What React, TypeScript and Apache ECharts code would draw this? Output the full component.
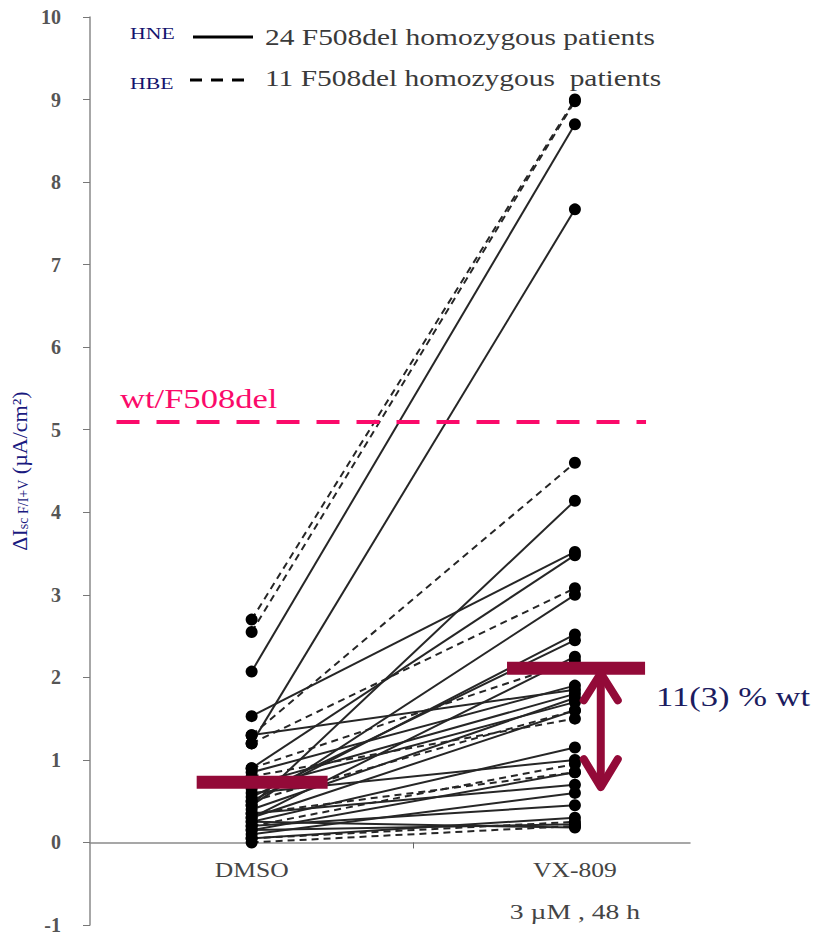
import React, { useEffect, useRef } from 'react';
import * as echarts from 'echarts';

// ---- data ----
const categories = ['DMSO', 'VX-809'];
const treatmentNote = '3 µM , 48 h';
// HNE: 24 F508del homozygous patients (solid lines)
const hneDmso = [2.07, 1.2, 0.45, 1.53, 1.3, 0.9, 0.45, 0.5, 0.55, 0.3, 0.85, 0.7, 0.4, 0.65, 0.3, 0.25, 0.6, 0.15, 0.35, 0.1, 0.2, 0.05, 0.15, 0.25];
const hneVx = [8.7, 7.67, 4.14, 3.52, 1.85, 3.48, 3.0, 2.52, 2.45, 2.25, 1.9, 1.8, 1.75, 1.7, 1.6, 1.15, 1.0, 0.85, 0.7, 0.6, 0.45, 0.3, 0.22, 0.18];
// HBE: 11 F508del homozygous patients (dashed lines)
const hbeDmso = [2.7, 2.55, 1.3, 1.2, 0.8, 0.2, 0.0, 0.9, 0.5, 0.35, 0.05];
const hbeVx = [9.0, 8.98, 4.6, 3.08, 1.5, 0.95, 0.2, 2.2, 1.6, 0.85, 0.25];
const means = [0.73, 2.11];
const wtLevel = 5.1;
const arrowRange = [2.11, 0.67];
const yTicks = { min: -1, max: 10, interval: 1 };
const legendRows = [
  { group: 'HNE', text: '24 F508del homozygous patients' },
  { group: 'HBE', text: '11 F508del homozygous  patients' },
];
const wtLabel = 'wt/F508del';
const pctLabel = '11(3) % wt';

const SERIF = 'Liberation Serif';
const CRIMSON = '#930a38';
const SX = 1.28; // horizontal stretch of the reference's texts

function buildOption() {
  const series: any[] = [];
  const mk = (d: number, v: number, dashed: boolean) => ({
    type: 'line',
    data: [[0, d], [1, v]],
    symbol: 'circle',
    symbolSize: 12,
    silent: true,
    z: 2,
    itemStyle: { color: '#000' },
    lineStyle: { color: '#262626', width: 2, type: dashed ? [7, 5] : 'solid' },
  });
  hneDmso.forEach((d, i) => series.push(mk(d, hneVx[i], false)));
  hbeDmso.forEach((d, i) => series.push(mk(d, hbeVx[i], true)));

  // wt reference line
  series[0].markLine = {
    silent: true,
    symbol: ['none', 'none'],
    animation: false,
    lineStyle: { color: '#fb0a6a', width: 4, type: [23, 17] },
    label: { show: false },
    data: [[{ coord: [-0.418, wtLevel] }, { coord: [1.22, wtLevel] }]],
  };

  const barExt = [[-0.17, 0.235], [0.79, 1.217]];
  series.push({
    type: 'custom',
    silent: true,
    z: 5,
    data: means.map((m, i) => [i, m]),
    encode: { x: 0, y: 1 },
    renderItem: (params: any, api: any) => {
      const i = api.value(0);
      const m = api.value(1);
      const a = api.coord([barExt[i][0], m]);
      const b = api.coord([barExt[i][1], m]);
      return {
        type: 'rect',
        shape: { x: a[0], y: a[1] - 6.5, width: b[0] - a[0], height: 13 },
        style: { fill: CRIMSON },
      };
    },
  });

  series.push({
    type: 'custom',
    silent: true,
    z: 5,
    data: [[1.08, arrowRange[0], arrowRange[1]]],
    encode: { x: 0, y: [1, 2] },
    renderItem: (params: any, api: any) => {
      const top = api.coord([api.value(0), api.value(1)]);
      const bot = api.coord([api.value(0), api.value(2)]);
      const x = top[0];
      const y1 = top[1] + 5;
      const y2 = bot[1];
      const st = { stroke: CRIMSON, lineWidth: 8, fill: null, lineCap: 'round', lineJoin: 'round' };
      return {
        type: 'group',
        children: [
          { type: 'line', shape: { x1: x, y1: y1 + 3, x2: x, y2: y2 - 3 }, style: st },
          { type: 'polyline', shape: { points: [[x - 17, y1 + 27], [x, y1], [x + 17, y1 + 27]] }, style: st },
          { type: 'polyline', shape: { points: [[x - 17, y2 - 28], [x, y2], [x + 17, y2 - 28]] }, style: st },
        ],
      };
    },
  });

  // category labels under the zero line
  series.push({
    type: 'custom',
    silent: true,
    z: 6,
    clip: false,
    data: categories.map((c, i) => [i, 0]),
    encode: { x: 0, y: 1 },
    renderItem: (params: any, api: any) => {
      const i = params.dataIndex;
      const p = api.coord([api.value(0), api.value(1)]);
      const children: any[] = [
        {
          type: 'text',
          x: p[0],
          y: p[1] + 28,
          scaleX: SX,
          style: { text: categories[i], fill: '#444', fontFamily: SERIF, fontSize: 20, align: 'center', verticalAlign: 'middle' },
        },
      ];
      if (i === 1) {
        children.push({
          type: 'text',
          x: p[0],
          y: p[1] + 70,
          scaleX: SX + 0.1,
          style: { text: treatmentNote, fill: '#444', fontFamily: SERIF, fontSize: 20, align: 'center', verticalAlign: 'middle' },
        });
      }
      return { type: 'group', children };
    },
  });

  const graphic: any[] = [];
  legendRows.forEach((r, i) => {
    const cy = i === 0 ? 37 : 80;
    graphic.push({
      type: 'text',
      x: 130,
      y: i === 0 ? 33 : 83,
      scaleX: SX,
      style: { text: r.group, fill: '#14146e', fontFamily: SERIF, fontSize: 17, verticalAlign: 'middle' },
    });
    graphic.push({
      type: 'line',
      shape: { x1: i === 0 ? 193 : 190, y1: cy, x2: 253, y2: cy },
      style: { stroke: '#000', lineWidth: 3, lineDash: i === 0 ? null : [12, 9] },
    });
    graphic.push({
      type: 'text',
      x: 265,
      y: i === 0 ? 37 : 78,
      scaleX: SX,
      style: { text: r.text, fill: '#3a3a3a', fontFamily: SERIF, fontSize: 23, verticalAlign: 'middle' },
    });
  });
  graphic.push({
    type: 'text',
    x: 120,
    y: 399,
    scaleX: SX,
    style: { text: wtLabel, fill: '#fb0a6a', fontFamily: SERIF, fontSize: 27, verticalAlign: 'middle' },
  });
  graphic.push({
    type: 'text',
    x: 656,
    y: 697,
    scaleX: SX,
    style: { text: pctLabel, fill: '#1c1c60', fontFamily: SERIF, fontSize: 27, verticalAlign: 'middle' },
  });

  return {
    animation: false,
    backgroundColor: '#fff',
    grid: { left: 90, right: 125, top: 17, bottom: 11, containLabel: false, outerBoundsMode: 'none' },
    xAxis: {
      type: 'value',
      min: -0.5,
      max: 1.356,
      splitLine: { show: false },
      axisLine: { show: true, onZero: true, lineStyle: { color: '#8a8a8a', width: 1.5 } },
      axisTick: { show: true, customValues: [0.5], length: 6, lineStyle: { color: '#666' } },
      axisLabel: { show: false },
    },
    yAxis: {
      type: 'value',
      min: yTicks.min,
      max: yTicks.max,
      interval: yTicks.interval,
      splitLine: { show: false },
      axisLine: { show: true, onZero: false, lineStyle: { color: '#8a8a8a', width: 1.5 } },
      axisTick: { show: true, length: 7, lineStyle: { color: '#777' } },
      axisLabel: { margin: 29, fontFamily: SERIF, fontSize: 20, color: '#555', fontWeight: 'bold' },
      name: '{d|ΔI}{s|sc F/I+V}{d| (µA/cm²)}',
      nameLocation: 'middle',
      nameRotate: 90,
      nameGap: 56,
      nameTextStyle: {
        rich: {
          d: { fontFamily: SERIF, fontSize: 22, color: '#1a1a80' },
          s: { fontFamily: SERIF, fontSize: 14, color: '#1a1a80', verticalAlign: 'bottom', padding: [8, 0, 0, 0] },
        },
      },
    },
    series,
    graphic,
  };
}

export default function App() {
  const ref = useRef<HTMLDivElement>(null);
  useEffect(() => {
    if (!ref.current) return;
    const chart = echarts.init(ref.current, null, { renderer: 'svg' });
    chart.setOption(buildOption() as any);
    return () => chart.dispose();
  }, []);
  return (
    <div
      ref={ref}
      style={{ position: 'fixed', left: 0, top: 0, width: 815, height: 936, background: '#fff' }}
    />
  );
}
